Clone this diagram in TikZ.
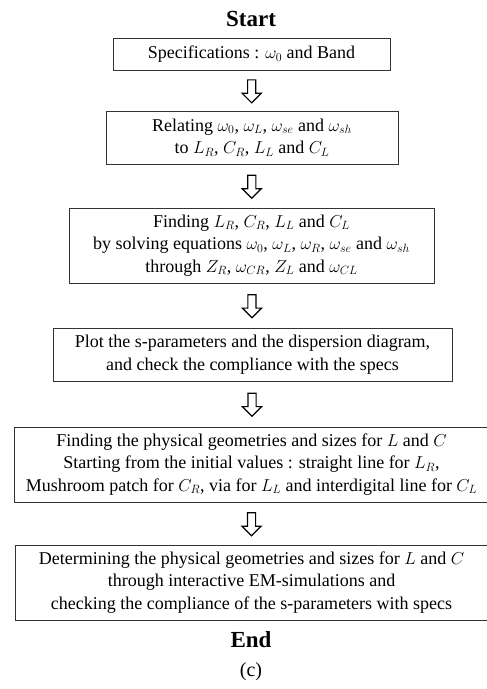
\documentclass[tikz,border=0pt]{standalone}
\usepackage{fontspec}
\setmainfont{Liberation Serif}
\usetikzlibrary{shapes.arrows, positioning, calc}
\tikzset{every node/.style={font=\fontsize{18}{22.5}\selectfont}}
\colorlet{boxline}{black!80}
\colorlet{arrowline}{black}
\tikzset{
  stepbox/.style={draw=boxline, line width=0.9pt, align=center, inner sep=0pt},
  downarrow/.style={draw=arrowline, line width=1.2pt, single arrow, shape border rotate=270,
    minimum height=23pt, inner sep=3.5pt, single arrow head extend=5.5pt},
  endlabel/.style={font=\fontsize{23}{26}\selectfont\bfseries}
}

\begin{document}
\begin{tikzpicture}[x=1pt, y=-1pt]
\useasboundingbox (0,0) rectangle (487,689);

% Start
\node[endlabel] (start) at (251,19) {Start};

% Steps
\node[stepbox, minimum width=277, minimum height=32] (b1) at (251.5,54)
  {Specifications : $\omega_0$ and Band};
\node[stepbox, minimum width=292, minimum height=53] (b2) at (252,137.5)
  {Relating $\omega_0$, $\omega_L$, $\omega_{se}$ and $\omega_{sh}$\\
   to $L_R$, $C_R$, $L_L$ and $C_L$};
\node[stepbox, minimum width=365, minimum height=75] (b3) at (251.5,245.5)
  {Finding $L_R$, $C_R$, $L_L$ and $C_L$\\
   by solving equations $\omega_0$, $\omega_L$, $\omega_R$, $\omega_{se}$ and $\omega_{sh}$\\
   through $Z_R$, $\omega_{CR}$, $Z_L$ and $\omega_{CL}$};
\node[stepbox, minimum width=399, minimum height=53] (b4) at (252.5,354.5)
  {Plot the s-parameters and the dispersion diagram,\\
   and check the compliance with the specs};
\node[stepbox, minimum width=475, minimum height=75] (b5) at (251.5,464.5)
  {Finding the physical geometries and sizes for $L$ and $C$\\
   Starting from the initial values : straight line for $L_R$,\\
   Mushroom patch for $C_R$, via for $L_L$ and interdigital line for $C_L$};
\node[stepbox, minimum width=473, minimum height=75] (b6) at (251.5,582.5)
  {Determining the physical geometries and sizes for $L$ and $C$\\
   through interactive EM-simulations and\\
   checking the compliance of the s-parameters with specs};

% Hollow arrows between steps
\foreach \i/\j in {1/2, 2/3, 3/4, 4/5, 5/6}
  \node[downarrow] (a\i) at ($(b\i.south)!0.47!(b\j.north)$) {};

% End and caption
\node[endlabel] (end) at (251,640) {End};
\node[font=\fontsize{20}{22}\selectfont] (cap) at (251,672) {(c)};

\end{tikzpicture}
\end{document}
